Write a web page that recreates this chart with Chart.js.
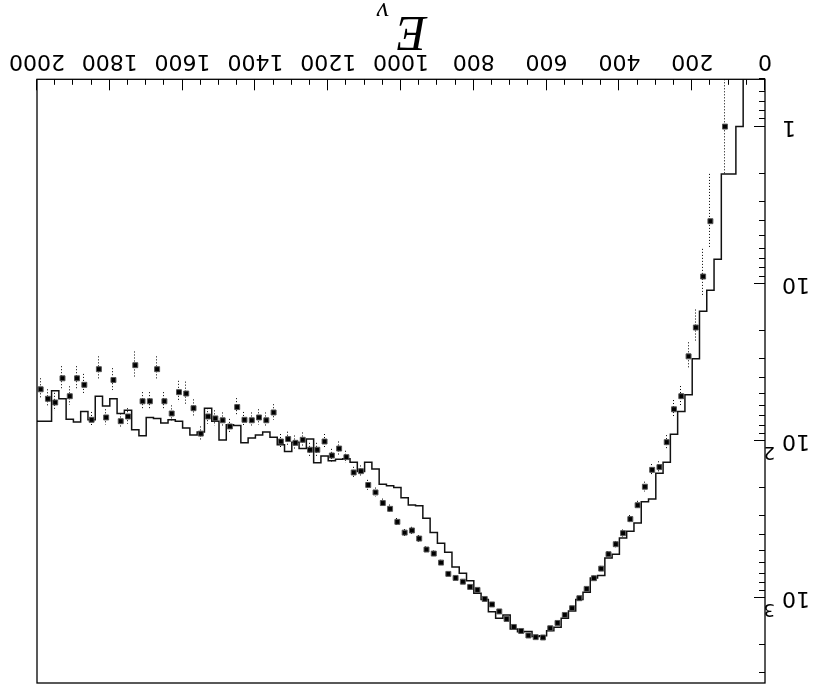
<!DOCTYPE html>
<html>
<head>
<meta charset="utf-8">
<script src="https://cdn.jsdelivr.net/npm/chart.js@4.4.1/dist/chart.umd.min.js"></script>
<style>
  html, body { margin: 0; padding: 0; background: #fff; }
  #giro { width: 813px; height: 693px; transform: rotate(180deg); }
</style>
</head>
<body>
<div id="giro"><canvas id="grafico" width="813" height="693"></canvas></div>
<script>
// bins of 20 (low edge of each bin)
const binLow = [
  0, 20, 40, 60, 80, 100, 120, 140, 160, 180,
  200, 220, 240, 260, 280, 300, 320, 340, 360, 380,
  400, 420, 440, 460, 480, 500, 520, 540, 560, 580,
  600, 620, 640, 660, 680, 700, 720, 740, 760, 780,
  800, 820, 840, 860, 880, 900, 920, 940, 960, 980,
  1000, 1020, 1040, 1060, 1080, 1100, 1120, 1140, 1160, 1180,
  1200, 1220, 1240, 1260, 1280, 1300, 1320, 1340, 1360, 1380,
  1400, 1420, 1440, 1460, 1480, 1500, 1520, 1540, 1560, 1580,
  1600, 1620, 1640, 1660, 1680, 1700, 1720, 1740, 1760, 1780,
  1800, 1820, 1840, 1860, 1880, 1900, 1920, 1940, 1960, 1980
];
const binWidth = 20;

// histograma (linea solida)
const mcCounts = [
  0, 0, 0, 0, 1, 2, 2, 7, 11, 15,
  30, 51, 65, 91, 137, 161, 235, 244, 334, 376,
  415, 527, 558, 721, 746, 920, 1025, 1210, 1347, 1535,
  1618, 1741, 1762, 1634, 1639, 1580, 1283, 1347, 1223, 1024,
  933, 779, 696, 635, 512, 448, 384, 311, 259, 256,
  230, 198, 193, 189, 151, 137, 157, 137, 130, 131,
  134, 125, 138, 97.5, 112, 102, 117, 106, 95, 88,
  92, 96, 103, 80, 79, 99, 75, 62, 88, 92,
  83, 75, 73.5, 77, 72, 71, 93, 85, 64, 67,
  54, 60, 52, 73.5, 65, 76, 73, 54, 48, 75
];

// puntos con error
const dataCounts = [
  null, null, null, null, null, 1, null, 4, 9, 19,
  29, 52, 63, 102, 147, 153, 196, 257, 315, 387,
  455, 527, 651, 749, 876, 1004, 1163, 1283, 1443, 1560,
  1785, 1777, 1734, 1623, 1530, 1361, 1219, 1100, 1015, 889,
  851, 788, 746, 703, 596, 522, 492, 419, 372, 384,
  328, 271, 249, 213, 191, 156, 159, 127, 112, 124,
  101, 114, 114, 98.5, 103, 97.5, 101, 66, 74, 71,
  74, 73.5, 61, 81, 74, 72, 70, 90, 62, 50,
  49, 67, 56, 35, 56, 56, 33, 70, 75, 41,
  71, 35, 73.5, 44, 40, 52, 40, 57, 54, 47
];
const dataErrors = [
  null, null, null, null, null, 1, null, 2, 3, 4.4,
  5.4, 7.2, 8, 10, 12, 12.4, 14, 16, 18, 20,
  21, 23, 25.5, 27, 30, 32, 34, 36, 38, 39.5,
  42, 42, 41.6, 40, 39, 37, 35, 33, 32, 30,
  29, 28, 27, 26.5, 24.4, 23, 22, 20.5, 19.3, 19.6,
  18, 16.5, 15.8, 14.6, 13.8, 12.5, 12.6, 11.3, 11, 11.5,
  10.5, 11, 11, 10, 10.5, 10, 10.5, 7.5, 8, 8,
  8, 8, 7.5, 8.5, 8, 8, 8, 9, 7.5, 8,
  7.5, 7.5, 7, 6, 7, 7, 6, 8, 8, 6.5,
  8, 6, 8, 6.5, 6.5, 7, 6.5, 7.5, 7, 7
];

const xTickValues = [0, 200, 400, 600, 800, 1000, 1200, 1400, 1600, 1800, 2000];
const xMinorStep = 50;
const yTickValues = [1, 10, 100, 1000];
const yTickLabels = ['1', '10', '10', '10'];
const yTickExponents = ['', '', '2', '3'];
const yMin = 0.5;
const yMax = 3480;
const tituloEje = 'E';
const tituloSub = 'ν';

const fuenteEje = '"DejaVu Sans", sans-serif';

const histPoints = binLow.map((x, i) => ({ x: x, y: mcCounts[i] > 0 ? mcCounts[i] : yMin / 100 }));
histPoints.push({ x: binLow[binLow.length - 1] + binWidth, y: histPoints[histPoints.length - 1].y });

const dataPoints = [];
binLow.forEach((x, i) => {
  if (dataCounts[i] !== null) dataPoints.push({ x: x + binWidth / 2, y: dataCounts[i], err: dataErrors[i] });
});

const marcoRoot = {
  id: 'marcoRoot',
  beforeDatasetsDraw(chart) {
    const { ctx, chartArea: a, scales: { x, y } } = chart;
    ctx.save();
    ctx.beginPath();
    ctx.rect(a.left, a.top, a.right - a.left, a.bottom - a.top);
    ctx.clip();
    ctx.strokeStyle = '#000';
    ctx.lineWidth = 1;
    ctx.setLineDash([1, 2]);
    dataPoints.forEach(p => {
      const px = Math.round(x.getPixelForValue(p.x)) + 0.5;
      const lo = p.y - p.err;
      const yLo = lo > 0 ? y.getPixelForValue(lo) : a.bottom;
      const yHi = y.getPixelForValue(p.y + p.err);
      ctx.beginPath();
      ctx.moveTo(px, yLo);
      ctx.lineTo(px, yHi);
      ctx.stroke();
    });
    ctx.restore();
  },
  afterDraw(chart) {
    const { ctx, chartArea: a, scales: { x, y } } = chart;
    ctx.save();
    ctx.strokeStyle = '#000';
    ctx.lineWidth = 1.3;
    ctx.strokeRect(a.left, a.top, a.right - a.left, a.bottom - a.top);

    // ticks eje x
    ctx.lineWidth = 1;
    for (let v = x.min; v <= x.max; v += xMinorStep) {
      const px = Math.round(x.getPixelForValue(v)) + 0.5;
      const largo = xTickValues.includes(v) ? 11 : 5.5;
      ctx.beginPath();
      ctx.moveTo(px, a.bottom);
      ctx.lineTo(px, a.bottom - largo);
      ctx.stroke();
    }
    // ticks eje y (log)
    for (let d = 0.1; d <= yMax; d *= 10) {
      for (let m = 1; m <= 9; m++) {
        const v = Math.round(m * d * 1000) / 1000;
        if (v < yMin || v > yMax) continue;
        const py = Math.round(y.getPixelForValue(v)) + 0.5;
        const largo = m === 1 ? 11 : 6;
        ctx.beginPath();
        ctx.moveTo(a.left, py);
        ctx.lineTo(a.left + largo, py);
        ctx.stroke();
      }
    }

    // exponentes
    ctx.fillStyle = '#000';
    ctx.font = '18px ' + fuenteEje;
    ctx.textAlign = 'left';
    ctx.textBaseline = 'middle';
    yTickValues.forEach((v, i) => {
      if (!yTickExponents[i]) return;
      ctx.fillText(yTickExponents[i], a.left - 10, y.getPixelForValue(v) - 11);
    });

    // titulo eje x
    const cx = (a.left + a.right) / 2;
    ctx.textBaseline = 'alphabetic';
    ctx.font = 'italic 50px "Liberation Serif", serif';
    ctx.fillText(tituloEje, cx - 26, 676);
    ctx.font = 'italic 28px "Liberation Serif", serif';
    ctx.fillText(tituloSub, cx + 12, 690);
    ctx.restore();
  }
};

const grafico = new Chart(document.getElementById('grafico').getContext('2d'), {
  type: 'line',
  data: {
    datasets: [
      {
        label: 'datos',
        data: dataPoints,
        showLine: false,
        pointStyle: 'rect',
        pointRadius: 3.5,
        pointBackgroundColor: '#000',
        pointBorderColor: '#555',
        pointBorderWidth: 1,
        order: 0
      },
      {
        label: 'mc',
        data: histPoints,
        stepped: 'after',
        borderColor: '#111',
        borderWidth: 1.5,
        pointRadius: 0,
        fill: false,
        order: 1
      }
    ]
  },
  options: {
    responsive: false,
    animation: false,
    events: [],
    layout: { padding: { top: 10, right: 37, left: 0, bottom: 0 } },
    plugins: { legend: { display: false }, tooltip: { enabled: false } },
    scales: {
      x: {
        type: 'linear',
        min: 0,
        max: 2000,
        afterBuildTicks: s => { s.ticks = xTickValues.map(v => ({ value: v })); },
        afterFit: s => { s.height = 79.3; },
        grid: { display: false, drawTicks: false },
        border: { display: false },
        ticks: {
          autoSkip: false,
          maxRotation: 0,
          minRotation: 0,
          padding: 5,
          color: '#000',
          font: { family: fuenteEje, size: 22 },
          callback: v => String(v)
        }
      },
      y: {
        type: 'logarithmic',
        min: yMin,
        max: yMax,
        afterBuildTicks: s => { s.ticks = yTickValues.map(v => ({ value: v })); },
        afterFit: s => { s.width = 48; s.paddingTop = 0; s.paddingBottom = 0; },
        grid: { display: false, drawTicks: false },
        border: { display: false },
        ticks: {
          padding: 17,
          color: '#000',
          font: { family: fuenteEje, size: 22 },
          callback: v => yTickLabels[yTickValues.indexOf(v)]
        }
      }
    }
  },
  plugins: [marcoRoot]
});
</script>
</body>
</html>
